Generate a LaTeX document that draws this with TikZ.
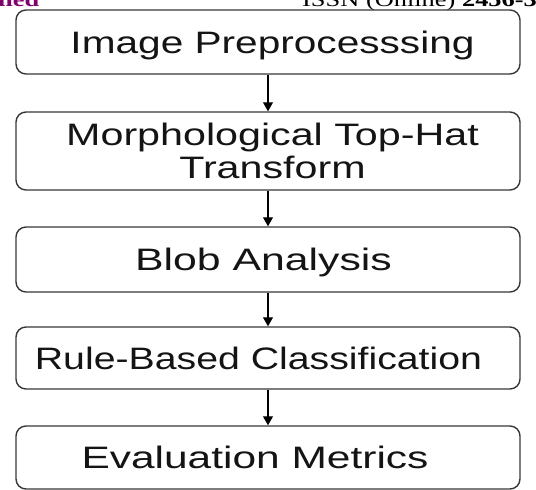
\documentclass[tikz,border=0pt]{standalone}
\usepackage{fontspec}
\usepackage{graphicx}
\setmainfont{Liberation Sans}
\newfontfamily\hdrfont{Liberation Serif}
\usetikzlibrary{arrows.meta}
\definecolor{boxline}{RGB}{55,55,55}
\definecolor{txt}{RGB}{20,20,20}
\definecolor{hdrpurple}{RGB}{128,0,110}
\newcommand{\wide}[2][1.32]{\scalebox{#1}[1]{#2}}
\tikzset{
  stepbox/.style={draw=boxline, line width=1.4pt, rounded corners=10pt,
    minimum width=504pt, inner sep=0pt, text=txt,
    font=\fontsize{31}{33}\selectfont},
  onebox/.style={stepbox, text height=22.2pt, text depth=0pt},
  flow/.style={draw=black, line width=1.1pt,
    -{Triangle[width=10pt,length=9pt]}},
  hdr/.style={inner sep=0pt, anchor=base west,
    font=\hdrfont\fontsize{20}{20}\selectfont}
}
\begin{document}
\begin{tikzpicture}[x=1pt,y=-1pt]
\useasboundingbox (0,0) rectangle (536,490);
\clip (0,0) rectangle (536,490);
% page header remnants (cut off at the top edge, as in the reference)
\node[hdr, text=hdrpurple] (h1) at (-2,6) {\wide{\bfseries lied}};
\node[hdr, text=black] (h2) at (302,6) {\wide{ISSN (Online) \bfseries 2456-3463}};
% boxes
\node[onebox, minimum height=64pt] (b1) at (268,42)
  {\hspace*{9pt}\wide[1.31]{Image Preprocesssing}};
\node[stepbox, minimum height=78pt, align=center] (b2) at (268,151)
  {\hspace*{9pt}\wide[1.33]{Morphological Top-Hat}\\\hspace*{9pt}\wide[1.33]{Transform}};
\node[onebox, minimum height=65pt] (b3) at (268,259.5)
  {\wide[1.38]{Blob Analysis}\hspace*{9pt}};
\node[onebox, minimum height=62pt] (b4) at (268,358)
  {\wide[1.266]{Rule-Based Classification}\hspace*{19pt}};
\node[onebox, minimum height=63pt] (b5) at (268,457.5)
  {\wide[1.37]{Evaluation Metrics}\hspace*{26pt}};
% connectors
\draw[flow] (b1.south) -- (b2.north);
\draw[flow] (b2.south) -- (b3.north);
\draw[flow] (b3.south) -- (b4.north);
\draw[flow] (b4.south) -- (b5.north);
\end{tikzpicture}
\end{document}
